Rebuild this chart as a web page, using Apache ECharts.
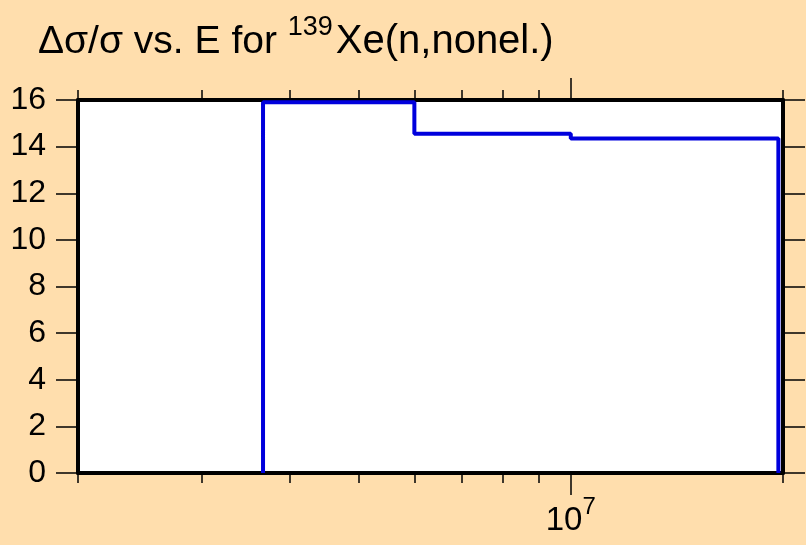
<!DOCTYPE html>
<html>
<head>
<meta charset="utf-8">
<script src="https://cdn.jsdelivr.net/npm/echarts@6/dist/echarts.min.js"></script>
<style>
  html, body { margin: 0; padding: 0; background: #FFDEAD; }
  #chart { width: 806px; height: 545px; }
</style>
</head>
<body>
<div id="chart"></div>
<script>
// bin edges (eV) and relative uncertainty in each bin
const binEdges = [3.66e6, 6.0e6, 1.0e7, 1.97e7];
const binValues = [15.9, 14.55, 14.35];
const minorTicks = [2e6, 3e6, 4e6, 5e6, 6e6, 7e6, 8e6, 9e6, 2e7];
const majorTicks = [1e7];
const yTicks = [0, 2, 4, 6, 8, 10, 12, 14, 16];

const fontName = 'Liberation Sans, Arial, sans-serif';

// step outline of the histogram
const stepPoints = () => {
    const pts = [[binEdges[0], 0]];
    for (let i = 0; i < binValues.length; i++) {
        pts.push([binEdges[i], binValues[i]]);
        pts.push([binEdges[i + 1], binValues[i]]);
    }
    pts.push([binEdges[binEdges.length - 1], 0]);
    return pts;
};

const xAxisBase = (pos, ticks, len, withLine, withLabel) => ({
    type: 'log',
    logBase: 10,
    min: 2e6,
    max: 2e7,
    position: pos,
    axisLine: { show: withLine, onZero: false, lineStyle: { color: '#000', width: 4 } },
    axisTick: { show: true, inside: false, length: len, customValues: ticks,
        lineStyle: { color: '#000', width: 1.5 } },
    axisLabel: {
        show: withLabel,
        customValues: ticks,
        margin: 22,
        fontSize: 33,
        fontFamily: fontName,
        color: '#000',
        formatter: (v) => '{a|10}{b|' + Math.round(Math.log10(v)) + '}',
        rich: {
            a: { fontSize: 33, fontFamily: fontName, color: '#000', verticalAlign: 'bottom', padding: [8, 0, 0, 0] },
            b: { fontSize: 24, fontFamily: fontName, color: '#000', verticalAlign: 'top', padding: [0, 0, 18, 0] }
        }
    },
    splitLine: { show: false }
});

const yAxisBase = (pos, withLabel) => ({
    type: 'value',
    min: 0,
    max: 16,
    interval: 2,
    position: pos,
    axisLine: { show: true, lineStyle: { color: '#000', width: 4 } },
    axisTick: { show: true, inside: false, length: 22, lineStyle: { color: '#000', width: 1.5 } },
    axisLabel: { show: withLabel, margin: 32, fontSize: 32, fontFamily: fontName, color: '#000',
        formatter: (v) => yTicks.indexOf(v) >= 0 ? String(v) : '' },
    splitLine: { show: false }
});

const chart = echarts.init(document.getElementById('chart'));
chart.setOption({
    backgroundColor: '#FFDEAD',
    animation: false,
    title: {
        text: '{t|Δσ/σ vs. E for }{s|139}{u|Xe(n,nonel.)}',
        left: 33,
        top: 9,
        textStyle: {
            fontSize: 39,
            fontWeight: 'normal',
            fontFamily: fontName,
            color: '#000',
            rich: {
                t: { fontSize: 39, fontWeight: 'normal', fontFamily: fontName, color: '#000', verticalAlign: 'bottom' },
                s: { fontSize: 27, fontWeight: 'normal', fontFamily: fontName, color: '#000', verticalAlign: 'top', padding: [0, 0, 21, 0] },
                u: { fontSize: 40, fontWeight: 'normal', fontFamily: fontName, color: '#000', verticalAlign: 'bottom', padding: [0, 0, 0, 3] }
            }
        }
    },
    grid: {
        left: 78, right: 23, top: 100, bottom: 72,
        show: true, backgroundColor: '#fff', borderWidth: 0
    },
    xAxis: [
        xAxisBase('bottom', minorTicks, 10, true, false),
        xAxisBase('bottom', majorTicks, 22, false, true),
        xAxisBase('top', minorTicks, 10, true, false),
        xAxisBase('top', majorTicks, 22, false, false)
    ],
    yAxis: [
        yAxisBase('left', true),
        yAxisBase('right', false)
    ],
    series: [{
        type: 'line',
        xAxisIndex: 0,
        yAxisIndex: 0,
        data: stepPoints(),
        showSymbol: false,
        lineStyle: { color: '#0000DD', width: 4 },
        z: 1
    }]
});
</script>
</body>
</html>
